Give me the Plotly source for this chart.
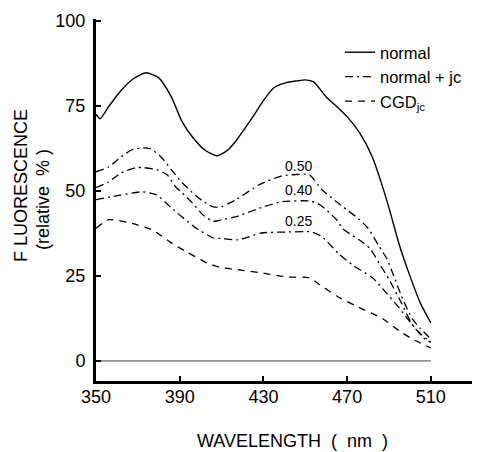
import plotly.graph_objects as go

# ---- data ----
normal_x = [350, 352, 356, 362, 368, 374, 380, 386, 391, 396, 402, 408, 413, 417, 425, 430,
            435, 441, 446, 450, 454, 460, 465, 470, 476, 482, 486, 490, 495, 500, 505, 510]
normal_y = [72.5, 71.2, 74.7, 79.5, 83, 84.7, 83.2, 77.6, 70.5, 65.9, 62, 60.3, 62, 64.8, 71.8, 76.5,
            80.3, 81.8, 82.3, 82.6, 82, 77.6, 74.8, 71.8, 67, 60, 53, 45, 34, 25, 17, 11.2]

jc50_x = [350, 356, 362, 367, 371, 376, 381, 386, 391, 396, 401, 406, 410, 413, 417, 428, 439,
          446, 452, 458, 468, 475, 480, 485, 489, 492, 496, 501, 505, 510]
jc50_y = [55.6, 57, 60, 62, 62.6, 62.4, 60, 56.2, 52.5, 49.5, 47, 45.3, 45.3, 46.2, 47.4, 51.8, 54.4,
          54.8, 54.7, 50.3, 45.3, 42, 39, 34, 30, 25.5, 19, 12.5, 9.5, 6.5]

jc40_x = [350, 356, 362, 369, 373, 379, 384, 388, 391, 396, 401, 406, 410, 417, 430, 439, 452,
          457, 465, 468, 476, 481, 486, 490, 496, 501, 507, 510]
jc40_y = [50.9, 52.6, 55.3, 56.8, 56.8, 56.2, 54.7, 51.2, 49.5, 46.5, 43, 41, 41.5, 42.4, 45.3, 46.8, 47,
          45.9, 41.5, 38.8, 35.5, 33, 28, 24, 17, 10.8, 6.5, 5.5]

jc25_x = [350, 357, 372, 379, 386, 397, 406, 410, 418, 429, 442, 453, 458, 466, 473, 482,
          488, 495, 500, 505, 510]
jc25_y = [47.4, 48.2, 49.7, 48.8, 45, 39.4, 36.2, 36, 35.6, 37.6, 37.9, 37.9, 36.5, 31.5, 28, 24.5,
          20.5, 15.5, 11.5, 8, 5.5]

cgd_x = [350, 356, 366, 377, 386, 394, 403, 410, 418, 429, 441, 452, 457, 465, 474, 487,
         495, 501, 510]
cgd_y = [39, 41.5, 40.6, 38.5, 34.7, 31.8, 28.8, 27.4, 26.8, 25.9, 24.7, 24.4, 22.4, 19.1, 16.2, 12.4,
         8.8, 6.5, 3.8]

zero_x = [350, 510]
zero_y = [0, 0]

x_ticks = [350, 390, 430, 470, 510]
y_ticks = [0, 25, 50, 75, 100]

conc_labels = ["0.50", "0.40", "0.25"]
conc_label_x = [447, 447, 447]
conc_label_y = [57.2, 50.2, 41]

FONT = "Liberation Sans, Arial, Helvetica, sans-serif"
DASHDOT = "8px,4px,2px,4px"
DASHED = "7px,6px"

# page has an 8px body margin: figure is placed at (8, 8) in the window
OFF = 8
PL, PR, PT, PB = 96, 480, 19, 381   # plot area in window pixels


def px(xw):
    return (xw - PL) / (PR - PL)


def py(yw):
    return (PB - yw) / (PB - PT)


fig = go.Figure()

fig.add_trace(go.Scatter(x=zero_x, y=zero_y, mode="lines",
                         line=dict(color="#444", width=1), showlegend=False, hoverinfo="skip"))

fig.add_trace(go.Scatter(x=normal_x, y=normal_y, mode="lines", name="normal",
                         line=dict(color="black", width=1.4, shape="spline", smoothing=0.6)))
fig.add_trace(go.Scatter(x=jc50_x, y=jc50_y, mode="lines", name="normal + jc",
                         line=dict(color="black", width=1.3, dash=DASHDOT, shape="spline", smoothing=0.6)))
fig.add_trace(go.Scatter(x=jc40_x, y=jc40_y, mode="lines", name="normal + jc 0.40", showlegend=False,
                         line=dict(color="black", width=1.3, dash=DASHDOT, shape="spline", smoothing=0.6)))
fig.add_trace(go.Scatter(x=jc25_x, y=jc25_y, mode="lines", name="normal + jc 0.25", showlegend=False,
                         line=dict(color="black", width=1.3, dash=DASHDOT, shape="spline", smoothing=0.6)))
fig.add_trace(go.Scatter(x=cgd_x, y=cgd_y, mode="lines", name="CGD<sub>jc</sub>",
                         line=dict(color="black", width=1.3, dash=DASHED, shape="spline", smoothing=0.6)))

for t, xx, yy in zip(conc_labels, conc_label_x, conc_label_y):
    fig.add_annotation(x=xx, y=yy, text=t, showarrow=False, xref="x", yref="y",
                       font=dict(size=14, color="black", family=FONT))

# axis titles
fig.add_annotation(x=px(292), y=py(441), xref="paper", yref="paper",
                   text="WAVELENGTH  <span style='font-size:18px'>(  nm  )</span>",
                   showarrow=False, font=dict(size=18, color="black", family=FONT),
                   xanchor="center", yanchor="middle")
fig.add_annotation(x=px(21), y=py(186), xref="paper", yref="paper",
                   text="F LUORESCENCE", textangle=-90, showarrow=False,
                   font=dict(size=18, color="black", family=FONT), xanchor="center", yanchor="middle")
fig.add_annotation(x=px(43), y=py(200), xref="paper", yref="paper",
                   text="(relative  % )", textangle=-90, showarrow=False,
                   font=dict(size=18, color="black", family=FONT), xanchor="center", yanchor="middle")

fig.update_layout(
    width=480 - OFF, height=452 - OFF,
    margin=dict(l=PL - OFF, r=0, t=PT - OFF, b=452 - PB),
    paper_bgcolor="white", plot_bgcolor="white",
    font=dict(family=FONT, color="black", size=18),
    showlegend=True,
    legend=dict(x=px(340), y=py(35), xanchor="left", yanchor="top",
                bgcolor="rgba(0,0,0,0)", font=dict(size=16.5, color="black", family=FONT),
                tracegroupgap=0, itemwidth=30),
    xaxis=dict(range=[350, 533.5], tickvals=x_ticks, ticktext=[str(v) for v in x_ticks],
               ticks="inside", ticklen=5, tickwidth=2, tickcolor="black",
               showline=True, linecolor="black", linewidth=3, showgrid=False, zeroline=False,
               tickfont=dict(size=18, family=FONT, color="black"), ticklabelstandoff=-3),
    yaxis=dict(range=[-5.9, 100.5], tickvals=y_ticks, ticktext=[str(v) for v in y_ticks],
               ticks="inside", ticklen=5, tickwidth=2, tickcolor="black",
               showline=True, linecolor="black", linewidth=3, showgrid=False, zeroline=False,
               tickfont=dict(size=18, family=FONT, color="black"), ticklabelstandoff=4),
)

fig.write_html("out.html")
